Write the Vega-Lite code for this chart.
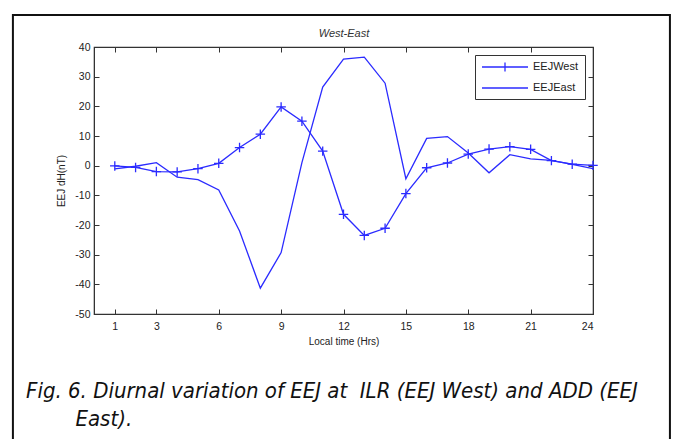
{
  "$schema": "https://vega.github.io/schema/vega-lite/v6.json",
  "width": 499,
  "height": 267,
  "autosize": {"type": "pad"},
  "padding": {"left": 11, "top": 13, "right": 0, "bottom": 0},
  "background": "white",
  "title": {
    "text": ["Fig. 6. Diurnal variation of EEJ at\u00a0 ILR (EEJ West) and ADD (EEJ", "\u200b\u2003\u2003\u2002East)."],
    "orient": "bottom",
    "anchor": "start",
    "frame": "group",
    "dx": -68,
    "offset": -70,
    "font": "DejaVu Sans Condensed",
    "fontStyle": "italic",
    "fontWeight": "normal",
    "fontSize": 22,
    "lineHeight": 28,
    "color": "#111"
  },
  "config": {
    "view": {"stroke": "#333", "strokeWidth": 1.2},
    "axis": {
      "labelFont": "Liberation Sans",
      "labelFontSize": 10.5,
      "labelColor": "#222",
      "titleFont": "Liberation Sans",
      "titleFontSize": 10,
      "titleFontWeight": "normal",
      "titleColor": "#222",
      "domainColor": "#333",
      "tickColor": "#333",
      "tickSize": -5,
      "grid": false,
      "labelExpr": "replace(datum.label, '\u2212', '-')"
    }
  },
  "data": {
    "values": [
      {"hour": 1, "series": "EEJWest", "dH": -0.1},
      {"hour": 2, "series": "EEJWest", "dH": -0.6},
      {"hour": 3, "series": "EEJWest", "dH": -2.0},
      {"hour": 4, "series": "EEJWest", "dH": -2.1},
      {"hour": 5, "series": "EEJWest", "dH": -1.0},
      {"hour": 6, "series": "EEJWest", "dH": 0.8},
      {"hour": 7, "series": "EEJWest", "dH": 6.1},
      {"hour": 8, "series": "EEJWest", "dH": 10.6},
      {"hour": 9, "series": "EEJWest", "dH": 19.8},
      {"hour": 10, "series": "EEJWest", "dH": 15.0},
      {"hour": 11, "series": "EEJWest", "dH": 4.9},
      {"hour": 12, "series": "EEJWest", "dH": -16.4},
      {"hour": 13, "series": "EEJWest", "dH": -23.5},
      {"hour": 14, "series": "EEJWest", "dH": -21.1},
      {"hour": 15, "series": "EEJWest", "dH": -9.4},
      {"hour": 16, "series": "EEJWest", "dH": -0.7},
      {"hour": 17, "series": "EEJWest", "dH": 0.9},
      {"hour": 18, "series": "EEJWest", "dH": 3.9},
      {"hour": 19, "series": "EEJWest", "dH": 5.6},
      {"hour": 20, "series": "EEJWest", "dH": 6.4},
      {"hour": 21, "series": "EEJWest", "dH": 5.5},
      {"hour": 22, "series": "EEJWest", "dH": 1.7},
      {"hour": 23, "series": "EEJWest", "dH": 0.5},
      {"hour": 24, "series": "EEJWest", "dH": 0.1},
      {"hour": 1, "series": "EEJEast", "dH": -1.1},
      {"hour": 2, "series": "EEJEast", "dH": -0.2},
      {"hour": 3, "series": "EEJEast", "dH": 1.0},
      {"hour": 4, "series": "EEJEast", "dH": -3.9},
      {"hour": 5, "series": "EEJEast", "dH": -4.7},
      {"hour": 6, "series": "EEJEast", "dH": -8.2},
      {"hour": 7, "series": "EEJEast", "dH": -22.0},
      {"hour": 8, "series": "EEJEast", "dH": -41.3},
      {"hour": 9, "series": "EEJEast", "dH": -29.3},
      {"hour": 10, "series": "EEJEast", "dH": 1.0},
      {"hour": 11, "series": "EEJEast", "dH": 26.5},
      {"hour": 12, "series": "EEJEast", "dH": 35.9},
      {"hour": 13, "series": "EEJEast", "dH": 36.6},
      {"hour": 14, "series": "EEJEast", "dH": 27.8},
      {"hour": 15, "series": "EEJEast", "dH": -4.4},
      {"hour": 16, "series": "EEJEast", "dH": 9.2},
      {"hour": 17, "series": "EEJEast", "dH": 9.8},
      {"hour": 18, "series": "EEJEast", "dH": 4.3},
      {"hour": 19, "series": "EEJEast", "dH": -2.4},
      {"hour": 20, "series": "EEJEast", "dH": 3.7},
      {"hour": 21, "series": "EEJEast", "dH": 2.3},
      {"hour": 22, "series": "EEJEast", "dH": 1.8},
      {"hour": 23, "series": "EEJEast", "dH": 0.4},
      {"hour": 24, "series": "EEJEast", "dH": -1.0}
    ]
  },
  "layer": [
    {
      "data": {"values": [{"x0": -3.9, "x1": 27.7, "y0": 50.8, "y1": -96}]},
      "mark": {"type": "rect", "fill": null, "stroke": "#111", "strokeWidth": 2, "clip": false},
      "encoding": {
        "x": {"field": "x0", "type": "quantitative", "scale": {"domain": [0, 24], "nice": false, "zero": false},
          "axis": {"orient": "top", "values": [1, 3, 6, 9, 12, 15, 18, 21, 24], "labels": false, "title": "West-East", "titleFontStyle": "italic", "titleFontSize": 11, "titleColor": "#333", "titlePadding": 8}},
        "x2": {"field": "x1"},
        "y": {"field": "y0", "type": "quantitative", "scale": {"domain": [-50, 40], "nice": false, "zero": false},
          "axis": {"orient": "right", "values": [-50, -40, -30, -20, -10, 0, 10, 20, 30, 40], "labels": false, "title": null}},
        "y2": {"field": "y1"}
      }
    },
    {
      "mark": {"type": "line", "strokeWidth": 1.3, "clip": true},
      "encoding": {
        "x": {"field": "hour", "type": "quantitative",
          "axis": {"orient": "bottom", "values": [1, 3, 6, 9, 12, 15, 18, 21, 24], "labelPadding": 12, "title": "Local time (Hrs)", "titlePadding": 5}},
        "y": {"field": "dH", "type": "quantitative",
          "axis": {"orient": "left", "values": [-50, -40, -30, -20, -10, 0, 10, 20, 30, 40], "labelPadding": 9, "title": "EEJ dH(nT)", "titlePadding": 8}},
        "color": {"field": "series", "type": "nominal",
          "scale": {"domain": ["EEJWest", "EEJEast"], "range": ["#2b2bff", "#2b2bff"]},
          "legend": {
            "title": null,
            "orient": "top-right",
            "offset": 8,
            "strokeColor": "#333",
            "fillColor": "white",
            "padding": 6,
            "labelFont": "Liberation Sans",
            "labelFontSize": 11,
            "labelColor": "#222",
            "labelOffset": 40,
            "rowPadding": 7,
            "symbolType": "M-1,0H8.2",
            "symbolSize": 100,
            "symbolStrokeWidth": 1.3,
            "symbolFillColor": "transparent",
            "encode": {"symbols": {"update": {"shape": {"signal": "datum.value === 'EEJWest' ? 'M-1,0H8.2M3.6,-0.9V0.9' : 'M-1,0H8.2'"}}}}
          }},
        "detail": {"field": "series"}
      }
    },
    {
      "transform": [{"filter": "datum.series === 'EEJWest'"}],
      "mark": {"type": "point", "shape": "M-1,0H1M0,-1V1", "filled": false, "size": 90, "strokeWidth": 1.3, "color": "#2b2bff", "opacity": 1},
      "encoding": {
        "x": {"field": "hour", "type": "quantitative", "axis": null},
        "y": {"field": "dH", "type": "quantitative", "axis": null}
      }
    }
  ],
  "resolve": {"axis": {"x": "independent", "y": "independent"}}
}
